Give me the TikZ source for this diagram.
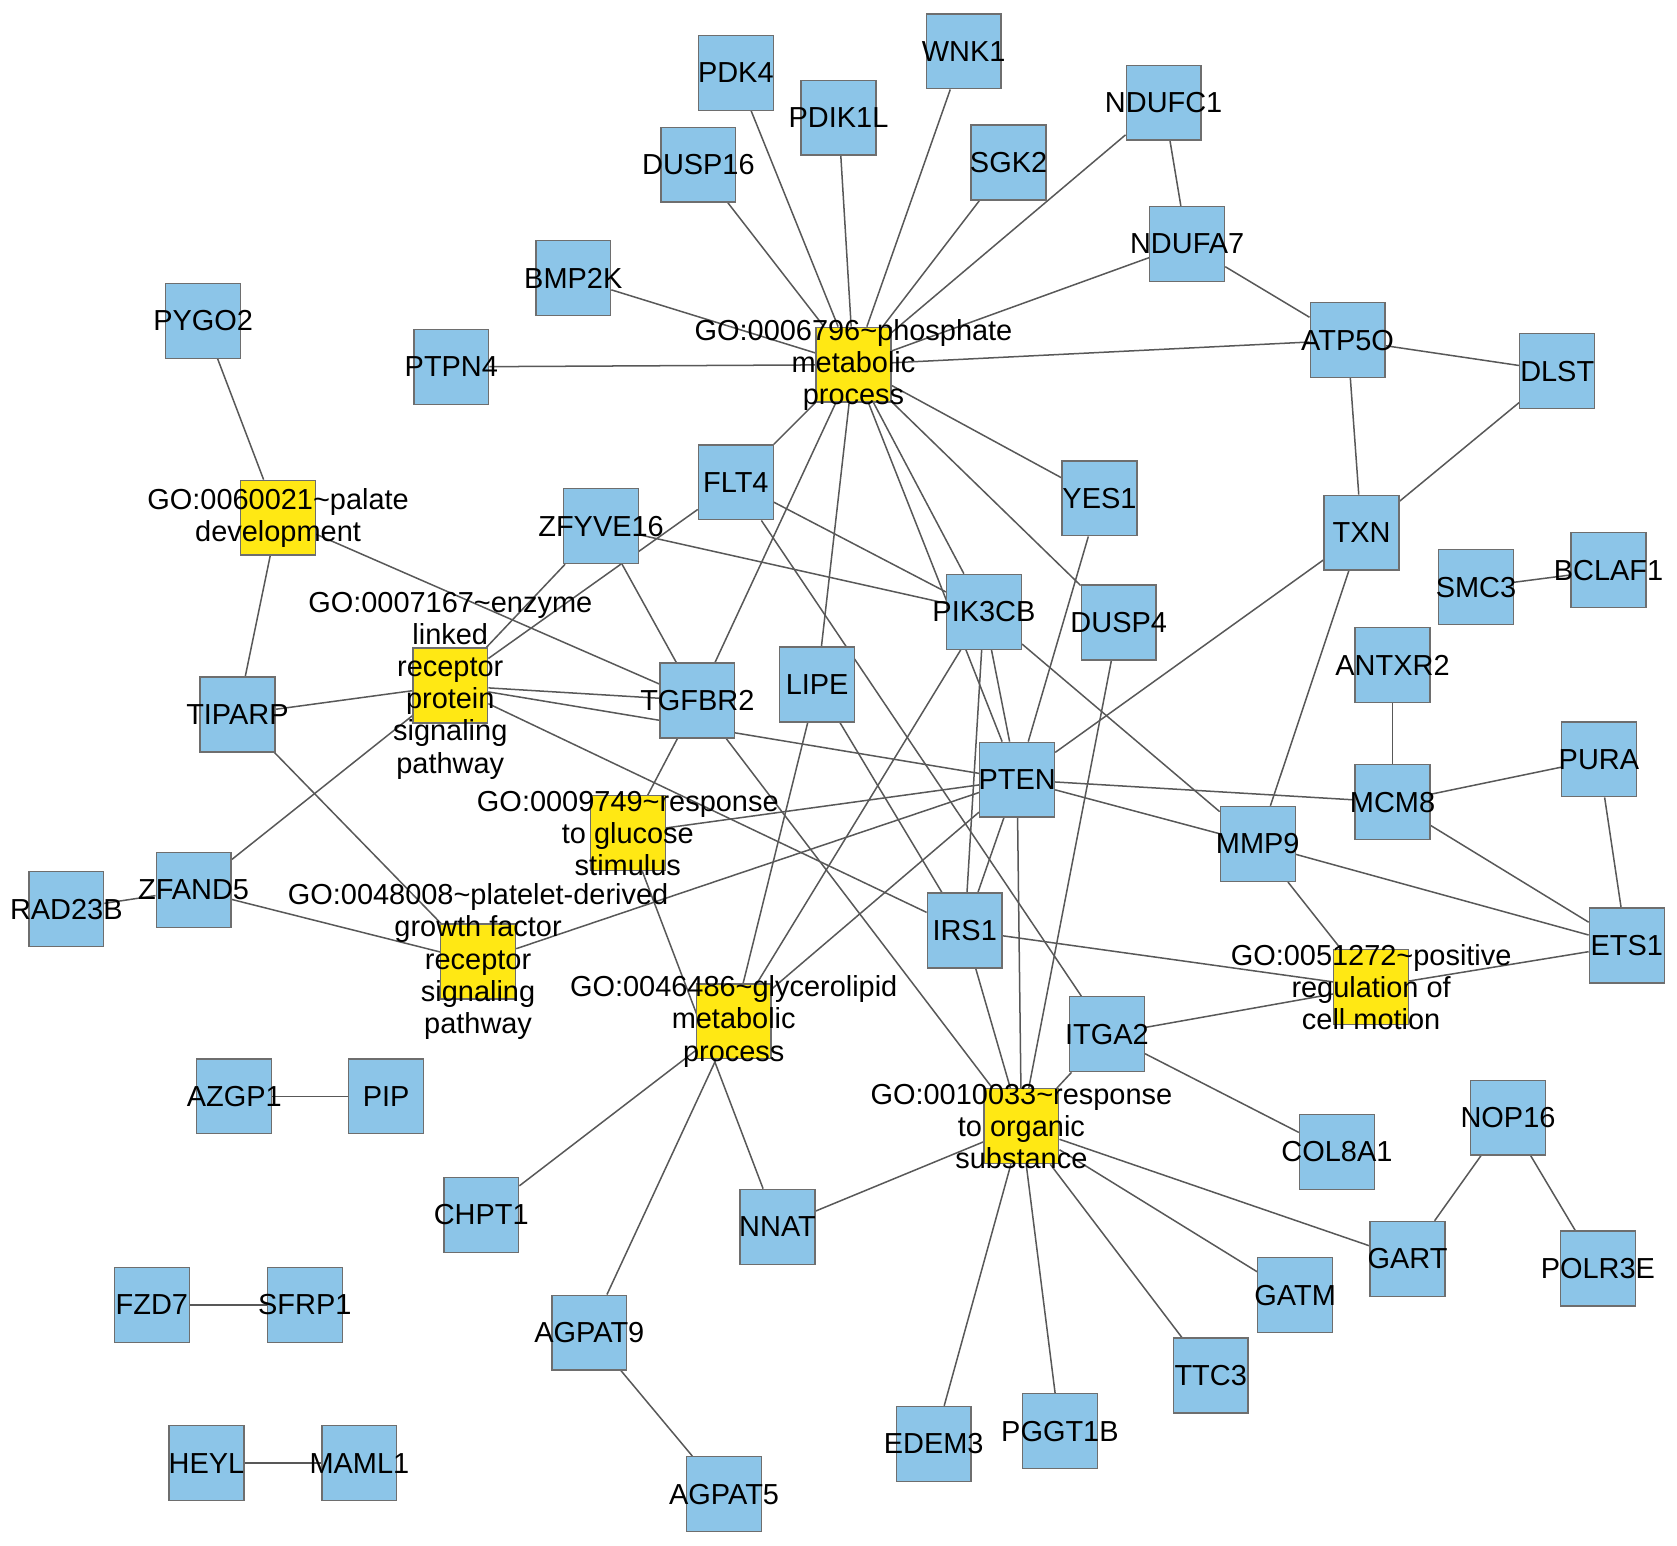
\documentclass[tikz,border=0pt]{standalone}
\usepackage{fontspec}
\setmainfont{Liberation Sans}
\pgfdeclarelayer{background}
\pgfsetlayers{background,main}
\definecolor{geneblue}{RGB}{140,197,232}
\definecolor{goyellow}{RGB}{255,232,20}
\definecolor{edgegray}{RGB}{88,88,88}
\definecolor{boxgray}{RGB}{110,110,110}

\begin{document}
\begin{tikzpicture}[x=0.02cm, y=-0.02cm, font=\fontsize{15.4}{17.1}\selectfont,
    gene/.style={draw=boxgray, line width=0.7pt, fill=geneblue, minimum size=1.4cm, inner sep=0pt},
    goterm/.style={gene, fill=goyellow},
    edge/.style={draw=edgegray, line width=0.8pt}]
    \useasboundingbox (0,0) rectangle (1568,1445);

    % genes
    \node[gene, label=center:PDK4] (pdk4) at (688,68) {};
    \node[gene, label=center:WNK1] (wnk1) at (901,48) {};
    \node[gene, label=center:PDIK1L] (pdik1l) at (784,110) {};
    \node[gene, label=center:DUSP16] (dusp16) at (653,154) {};
    \node[gene, label=center:SGK2] (sgk2) at (943,152) {};
    \node[gene, label=center:NDUFC1] (ndufc1) at (1088,96) {};
    \node[gene, label=center:NDUFA7] (ndufa7) at (1110,228) {};
    \node[gene, label=center:BMP2K] (bmp2k) at (536,260) {};
    \node[gene, label=center:PYGO2] (pygo2) at (190,300) {};
    \node[gene, label=center:PTPN4] (ptpn4) at (422,343) {};
    \node[gene, label=center:ATP5O] (atp5o) at (1260,318) {};
    \node[gene, label=center:DLST] (dlst) at (1456,347) {};
    \node[gene, label=center:FLT4] (flt4) at (688,451) {};
    \node[gene, label=center:YES1] (yes1) at (1028,466) {};
    \node[gene, label=center:ZFYVE16] (zfyve16) at (562,492) {};
    \node[gene, label=center:TXN] (txn) at (1273,498) {};
    \node[gene, label=center:SMC3] (smc3) at (1380,549) {};
    \node[gene, label=center:BCLAF1] (bclaf1) at (1504,533) {};
    \node[gene, label=center:PIK3CB] (pik3cb) at (920,572) {};
    \node[gene, label=center:DUSP4] (dusp4) at (1046,582) {};
    \node[gene, label=center:ANTXR2] (antxr2) at (1302,622) {};
    \node[gene, label=center:LIPE] (lipe) at (764,640) {};
    \node[gene, label=center:TGFBR2] (tgfbr2) at (652,655) {};
    \node[gene, label=center:TIPARP] (tiparp) at (222,668) {};
    \node[gene, label=center:PTEN] (pten) at (951,729) {};
    \node[gene, label=center:PURA] (pura) at (1495,710) {};
    \node[gene, label=center:MCM8] (mcm8) at (1302,750) {};
    \node[gene, label=center:MMP9] (mmp9) at (1176,789) {};
    \node[gene, label=center:ZFAND5] (zfand5) at (181,832) {};
    \node[gene, label=center:RAD23B] (rad23b) at (62,850) {};
    \node[gene, label=center:IRS1] (irs1) at (902,870) {};
    \node[gene, label=center:ETS1] (ets1) at (1521,884) {};
    \node[gene, label=center:ITGA2] (itga2) at (1035,967) {};
    \node[gene, label=center:AZGP1] (azgp1) at (219,1025) {};
    \node[gene, label=center:PIP] (pip) at (361,1025) {};
    \node[gene, label=center:COL8A1] (col8a1) at (1250,1077) {};
    \node[gene, label=center:NOP16] (nop16) at (1410,1045) {};
    \node[gene, label=center:CHPT1] (chpt1) at (450,1136) {};
    \node[gene, label=center:NNAT] (nnat) at (727,1147) {};
    \node[gene, label=center:GART] (gart) at (1316,1177) {};
    \node[gene, label=center:POLR3E] (polr3e) at (1494,1186) {};
    \node[gene, label=center:GATM] (gatm) at (1211,1211) {};
    \node[gene, label=center:FZD7] (fzd7) at (142,1220) {};
    \node[gene, label=center:SFRP1] (sfrp1) at (285,1220) {};
    \node[gene, label=center:AGPAT9] (agpat9) at (551,1246) {};
    \node[gene, label=center:TTC3] (ttc3) at (1132,1286) {};
    \node[gene, label=center:PGGT1B] (pggt1b) at (991,1338) {};
    \node[gene, label=center:EDEM3] (edem3) at (873,1350) {};
    \node[gene, label=center:HEYL] (heyl) at (193,1368) {};
    \node[gene, label=center:MAML1] (maml1) at (336,1368) {};
    \node[gene, label=center:AGPAT5] (agpat5) at (677,1397) {};

    % GO terms
    \node[goterm, label={[align=center]center:{GO:0006796\textasciitilde phosphate\\metabolic\\process}}] (go6796) at (798,341) {};
    \node[goterm, label={[align=center]center:{GO:0060021\textasciitilde palate\\development}}] (go60021) at (260,484) {};
    \node[goterm, label={[align=center]center:{GO:0007167\textasciitilde enzyme\\linked\\receptor\\protein\\signaling\\pathway}}] (go7167) at (421,641) {};
    \node[goterm, label={[align=center]center:{GO:0009749\textasciitilde response\\to glucose\\stimulus}}] (go9749) at (587,779) {};
    \node[goterm, label={[align=center]center:{GO:0048008\textasciitilde platelet-derived\\growth factor\\receptor\\signaling\\pathway}}] (go48008) at (447,899) {};
    \node[goterm, label={[align=center]center:{GO:0046486\textasciitilde glycerolipid\\metabolic\\process}}] (go46486) at (686,955) {};
    \node[goterm, label={[align=center]center:{GO:0010033\textasciitilde response\\to organic\\substance}}] (go10033) at (955,1053) {};
    \node[goterm, label={[align=center]center:{GO:0051272\textasciitilde positive\\regulation of\\cell motion}}] (go51272) at (1282,923) {};

    \begin{pgfonlayer}{background}
    % phosphate metabolic process
    \draw[edge] (go6796) -- (pdk4);
    \draw[edge] (go6796) -- (dusp16);
    \draw[edge] (go6796) -- (pdik1l);
    \draw[edge] (go6796) -- (wnk1);
    \draw[edge] (go6796) -- (sgk2);
    \draw[edge] (go6796) -- (ndufc1);
    \draw[edge] (go6796) -- (ndufa7);
    \draw[edge] (go6796) -- (bmp2k);
    \draw[edge] (go6796) -- (ptpn4);
    \draw[edge] (go6796) -- (atp5o);
    \draw[edge] (go6796) -- (flt4);
    \draw[edge] (go6796) -- (yes1);
    \draw[edge] (go6796) -- (tgfbr2);
    \draw[edge] (go6796) -- (lipe);
    \draw[edge] (go6796) -- (pten);
    \draw[edge] (go6796) -- (pik3cb);
    \draw[edge] (go6796) -- (dusp4);
    % palate development
    \draw[edge] (go60021) -- (pygo2);
    \draw[edge] (go60021) -- (tiparp);
    \draw[edge] (go60021) -- (tgfbr2);
    % enzyme linked receptor protein signaling pathway
    \draw[edge] (go7167) -- (zfyve16);
    \draw[edge] (go7167) -- (flt4);
    \draw[edge] (go7167) -- (tiparp);
    \draw[edge] (go7167) -- (tgfbr2);
    \draw[edge] (go7167) -- (pten);
    \draw[edge] (go7167) -- (irs1);
    \draw[edge] (go7167) -- (zfand5);
    % response to glucose stimulus
    \draw[edge] (go9749) -- (tgfbr2);
    \draw[edge] (go9749) -- (pten);
    \draw[edge] (go9749) -- (nnat);
    % platelet-derived growth factor receptor signaling pathway
    \draw[edge] (go48008) -- (zfand5);
    \draw[edge] (go48008) -- (tiparp);
    \draw[edge] (go48008) -- (pten);
    % glycerolipid metabolic process
    \draw[edge] (go46486) -- (lipe);
    \draw[edge] (go46486) -- (pik3cb);
    \draw[edge] (go46486) -- (pten);
    \draw[edge] (go46486) -- (chpt1);
    \draw[edge] (go46486) -- (agpat9);
    % response to organic substance
    \draw[edge] (go10033) -- (pten);
    \draw[edge] (go10033) -- (irs1);
    \draw[edge] (go10033) -- (dusp4);
    \draw[edge] (go10033) -- (tgfbr2);
    \draw[edge] (go10033) -- (itga2);
    \draw[edge] (go10033) -- (nnat);
    \draw[edge] (go10033) -- (edem3);
    \draw[edge] (go10033) -- (pggt1b);
    \draw[edge] (go10033) -- (ttc3);
    \draw[edge] (go10033) -- (gatm);
    \draw[edge] (go10033) -- (gart);
    % positive regulation of cell motion
    \draw[edge] (go51272) -- (mmp9);
    \draw[edge] (go51272) -- (irs1);
    \draw[edge] (go51272) -- (itga2);
    \draw[edge] (go51272) -- (ets1);
    % gene-gene
    \draw[edge] (ndufc1) -- (ndufa7);
    \draw[edge] (ndufa7) -- (atp5o);
    \draw[edge] (atp5o) -- (dlst);
    \draw[edge] (atp5o) -- (txn);
    \draw[edge] (dlst) -- (txn);
    \draw[edge] (txn) -- (pten);
    \draw[edge] (txn) -- (mmp9);
    \draw[edge] (zfyve16) -- (tgfbr2);
    \draw[edge] (zfyve16) -- (pik3cb);
    \draw[edge] (flt4) -- (pik3cb);
    \draw[edge] (flt4) -- (itga2);
    \draw[edge] (pik3cb) -- (pten);
    \draw[edge] (pik3cb) -- (irs1);
    \draw[edge] (pik3cb) -- (mmp9);
    \draw[edge] (yes1) -- (pten);
    \draw[edge] (lipe) -- (irs1);
    \draw[edge] (pten) -- (irs1);
    \draw[edge] (pten) -- (mcm8);
    \draw[edge] (pten) -- (mmp9);
    \draw[edge] (mcm8) -- (antxr2);
    \draw[edge] (mcm8) -- (pura);
    \draw[edge] (mcm8) -- (ets1);
    \draw[edge] (pura) -- (ets1);
    \draw[edge] (mmp9) -- (ets1);
    \draw[edge] (itga2) -- (col8a1);
    \draw[edge] (nop16) -- (gart);
    \draw[edge] (nop16) -- (polr3e);
    \draw[edge] (agpat9) -- (agpat5);
    \draw[edge] (azgp1) -- (pip);
    \draw[edge] (fzd7) -- (sfrp1);
    \draw[edge] (heyl) -- (maml1);
    \draw[edge] (rad23b) -- (zfand5);
    \draw[edge] (smc3) -- (bclaf1);
    \end{pgfonlayer}
\end{tikzpicture}
\end{document}
